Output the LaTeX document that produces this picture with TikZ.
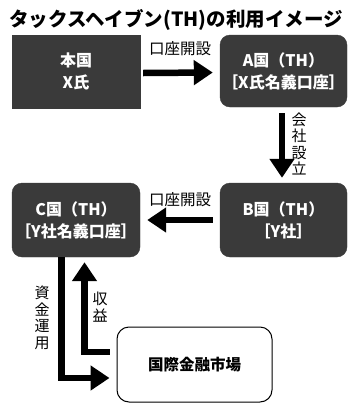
\documentclass[tikz,border=0pt]{standalone}
\usepackage{fontspec}
\setmainfont{Noto Sans CJK JP}
\usetikzlibrary{arrows.meta}
\definecolor{boxgray}{HTML}{3A3A3A}
\tikzset{
  darkbox/.style={fill=boxgray, draw=boxgray, text=white, font=\bfseries\fontsize{16}{22}\selectfont, align=center, inner sep=0pt},
  whitebox/.style={draw=black, line width=1pt, fill=white, rounded corners=12pt, font=\bfseries\fontsize{15.5}{18}\selectfont, inner sep=0pt},
  bigarrow/.style={line width=6.5pt, -{Triangle[length=19pt,width=24pt]}},
  lbl/.style={font=\fontsize{15.5}{16}\selectfont, inner sep=0pt},
  vlbl/.style={font=\fontsize{15}{16.5}\selectfont, align=center, inner sep=0pt},
}
\begin{document}
\begin{tikzpicture}[x=1pt,y=-1pt]
\useasboundingbox (0,0) rectangle (361,413);
\node[font=\bfseries\fontsize{19.5}{22}\selectfont, inner sep=0pt] (title) at (176,20) {タックスヘイブン(TH)の利用イメージ};
\node[darkbox, minimum width=128pt, minimum height=73pt] (hon) at (76,71.5) {本国\\X氏};
\node[darkbox, rounded corners=10pt, minimum width=127pt, minimum height=72pt] (A) at (283.5,71) {A国（TH）\\［X氏名義口座］};
\node[darkbox, rounded corners=10pt, minimum width=128pt, minimum height=74pt] (C) at (76,220) {C国（TH）\\［Y社名義口座］};
\node[darkbox, rounded corners=10pt, minimum width=127pt, minimum height=74pt] (B) at (283.5,220) {B国（TH）\\［Y社］};
\node[whitebox, minimum width=155pt, minimum height=75pt] (mkt) at (194.5,364.5) {国際金融市場};
% arrows
\draw[bigarrow] ([xshift=3pt,yshift=-1.5pt]hon.east) -- ([xshift=-7pt,yshift=-1.5pt]A.west);
\node[lbl] (l1) at (180,49) {口座開設};
\draw[bigarrow] ([xshift=-1.5pt,yshift=-6pt]A.south) -- ([xshift=-1.5pt,yshift=5pt]B.north);
\node[vlbl] (l2) at (299,144) {会\\社\\設\\立};
\draw[bigarrow] ([xshift=-7pt]B.west) -- ([xshift=7pt]C.east);
\node[lbl] (l3) at (180,200) {口座開設};
\coordinate (m1) at ([xshift=-7pt,yshift=-13.5pt]mkt.west);
\coordinate (c1) at ([xshift=-14.5pt]C.south);
\coordinate (c2) at (c1 |- m1);
\draw[bigarrow] (c1) -- (c2) -- (m1);
\coordinate (r1) at ([xshift=-7pt,yshift=12.5pt]mkt.west);
\coordinate (c3) at ([xshift=8.5pt,yshift=-5pt]C.south);
\coordinate (r2) at (c3 |- r1);
\draw[bigarrow] (r1) -- (r2) -- (c3);
\node[vlbl] (l4) at (42,318) {資\\金\\運\\用};
\node[vlbl] (l5) at (100,307) {収\\益};
\end{tikzpicture}
\end{document}
